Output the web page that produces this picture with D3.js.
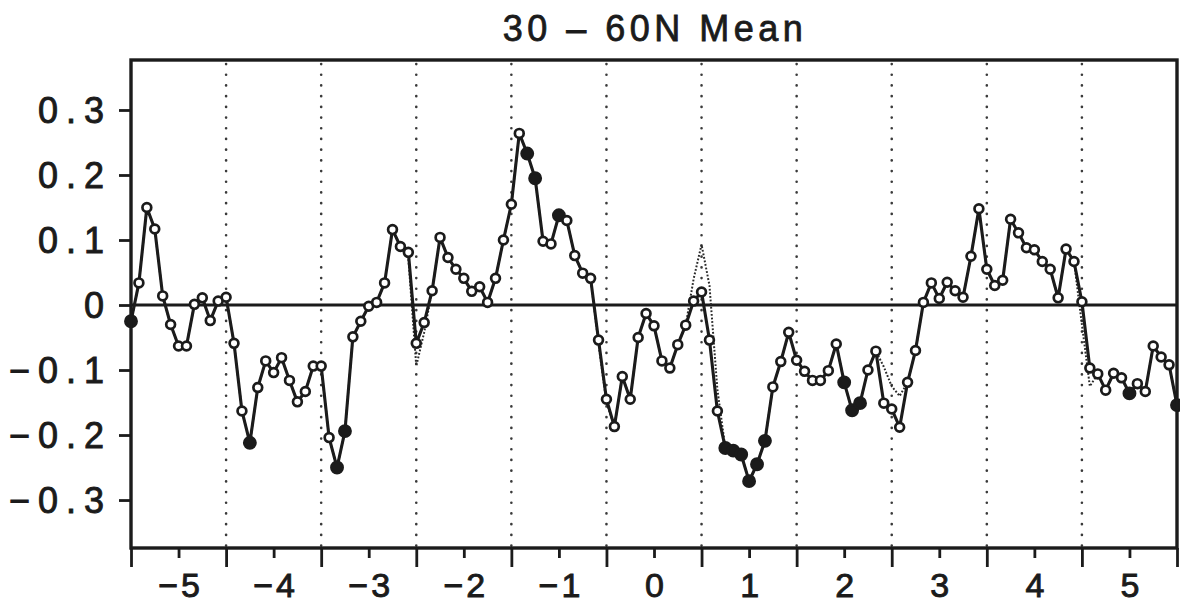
<!DOCTYPE html>
<html>
<head>
<meta charset="utf-8">
<script src="https://cdn.jsdelivr.net/npm/d3@7"></script>
<style>
  html, body { margin: 0; padding: 0; background: #ffffff; }
  svg { display: block; }
</style>
</head>
<body>
<svg id="chart" width="1180" height="603"></svg>
<script>
// ---------------- data ----------------
const chartTitle = "30 \u2013 60N Mean";
const xStart = -5.5;          // first sample position
const samplesPerUnit = 12;    // monthly samples

// main (solid) series, 133 samples from -5.5 to 5.5
const meanValues = [
  -0.025, 0.034, 0.150, 0.117, 0.014, -0.030, -0.063, -0.063, 0.001, 0.011, -0.024, 0.006,
   0.012, -0.059, -0.163, -0.212, -0.127, -0.086, -0.104, -0.081, -0.116, -0.149, -0.133, -0.094,
  -0.094, -0.204, -0.250, -0.194, -0.049, -0.025, -0.002, 0.004, 0.034, 0.116, 0.090, 0.081,
  -0.059, -0.027, 0.022, 0.104, 0.073, 0.055, 0.041, 0.021, 0.028, 0.004, 0.041, 0.100,
   0.155, 0.264, 0.233, 0.195, 0.098, 0.094, 0.138, 0.130, 0.076, 0.049, 0.041, -0.054,
  -0.145, -0.187, -0.110, -0.145, -0.050, -0.013, -0.032, -0.086, -0.097, -0.061, -0.031, 0.006,
   0.020, -0.054, -0.163, -0.220, -0.224, -0.230, -0.271, -0.245, -0.209, -0.126, -0.087, -0.042,
  -0.085, -0.102, -0.116, -0.116, -0.101, -0.060, -0.119, -0.162, -0.151, -0.100, -0.071, -0.151,
  -0.160, -0.188, -0.119, -0.070, 0.004, 0.034, 0.010, 0.035, 0.022, 0.012, 0.075, 0.148,
   0.055, 0.030, 0.038, 0.132, 0.111, 0.088, 0.085, 0.067, 0.055, 0.011, 0.086, 0.067,
   0.005, -0.097, -0.106, -0.131, -0.105, -0.112, -0.136, -0.121, -0.133, -0.063, -0.080, -0.092,
  -0.154
];

// second (dotted) series, same sampling
const altValues = [
  -0.025, 0.034, 0.150, 0.117, 0.014, -0.030, -0.063, -0.063, 0.001, 0.011, -0.024, 0.006,
   0.012, -0.059, -0.163, -0.212, -0.127, -0.086, -0.104, -0.081, -0.116, -0.149, -0.133, -0.094,
  -0.094, -0.204, -0.250, -0.194, -0.049, -0.025, -0.002, 0.004, 0.034, 0.116, 0.090, 0.072,
  -0.094, -0.042, 0.022, 0.104, 0.073, 0.055, 0.041, 0.021, 0.028, 0.004, 0.041, 0.100,
   0.155, 0.264, 0.233, 0.195, 0.098, 0.094, 0.138, 0.130, 0.076, 0.049, 0.041, -0.060,
  -0.150, -0.187, -0.110, -0.145, -0.050, -0.013, -0.032, -0.086, -0.097, -0.061, -0.031, 0.040,
   0.093, 0.030, -0.130, -0.220, -0.224, -0.230, -0.271, -0.245, -0.209, -0.126, -0.087, -0.042,
  -0.085, -0.102, -0.116, -0.116, -0.101, -0.060, -0.119, -0.162, -0.151, -0.100, -0.071, -0.095,
  -0.125, -0.140, -0.119, -0.070, 0.004, 0.034, 0.010, 0.035, 0.022, 0.012, 0.075, 0.148,
   0.055, 0.030, 0.038, 0.132, 0.111, 0.088, 0.085, 0.067, 0.055, 0.011, 0.086, 0.067,
  -0.030, -0.125, -0.106, -0.131, -0.105, -0.112, -0.136, -0.121, -0.133, -0.063, -0.080, -0.092,
  -0.154
];

// indices of samples drawn with filled markers
const filledIndices = [0, 15, 26, 27, 50, 51, 54, 75, 76, 77, 78, 79, 80, 90, 91, 92, 126, 132];

const yTickValues = [-0.3, -0.2, -0.1, 0, 0.1, 0.2, 0.3];
const xLabelTicks = [-5, -4, -3, -2, -1, 0, 1, 2, 3, 4, 5];
const xMajorTicks = [-5.5, -4.5, -3.5, -2.5, -1.5, -0.5, 0.5, 1.5, 2.5, 3.5, 4.5, 5.5];
const gridLines = [-4.5, -3.5, -2.5, -1.5, -0.5, 0.5, 1.5, 2.5, 3.5, 4.5];
const xDomain = [-5.5, 5.5];
const yDomain = [-0.3738, 0.3769];

// ---------------- layout ----------------
const plotLeft = 131, plotRight = 1177, plotTop = 60, plotBottom = 548;
const ink = "#1b1b1b";
const fontFamily = "'Liberation Sans', Arial, sans-serif";

const svg = d3.select("#chart");
svg.append("rect").attr("width", 1180).attr("height", 603).attr("fill", "#ffffff");

const x = d3.scaleLinear().domain(xDomain).range([plotLeft, plotRight]);
const y = d3.scaleLinear().domain(yDomain).range([plotBottom, plotTop]);

const mainData = meanValues.map((v, i) => ({ x: xStart + i / samplesPerUnit, y: v, i }));
const altData = altValues.map((v, i) => ({ x: xStart + i / samplesPerUnit, y: v, i }));
const filledSet = new Set(filledIndices);

// dotted vertical grid lines
svg.append("g").selectAll("line").data(gridLines).join("line")
  .attr("x1", d => x(d)).attr("x2", d => x(d))
  .attr("y1", plotTop + 4).attr("y2", plotBottom)
  .attr("stroke", "#3a3a3a").attr("stroke-width", 2.6)
  .attr("stroke-linecap", "round")
  .attr("stroke-dasharray", "0.1,10.6");

// zero line
svg.append("line")
  .attr("x1", plotLeft).attr("x2", plotRight)
  .attr("y1", y(0)).attr("y2", y(0))
  .attr("stroke", ink).attr("stroke-width", 2.8);

// dotted alt series
const line = d3.line().x(d => x(d.x)).y(d => y(d.y));
svg.append("path").datum(altData)
  .attr("d", line).attr("fill", "none")
  .attr("stroke", "#2a2a2a").attr("stroke-width", 2)
  .attr("stroke-dasharray", "1.8,1.8");

// main series
svg.append("path").datum(mainData)
  .attr("d", line).attr("fill", "none")
  .attr("stroke", ink).attr("stroke-width", 3.1)
  .attr("stroke-linejoin", "round");

// markers
svg.append("g").selectAll("circle").data(mainData).join("circle")
  .attr("cx", d => x(d.x)).attr("cy", d => y(d.y))
  .attr("r", d => filledSet.has(d.i) ? 5.6 : 4.4)
  .attr("fill", d => filledSet.has(d.i) ? ink : "#ffffff")
  .attr("stroke", ink).attr("stroke-width", 2.7);

// frame
svg.append("rect")
  .attr("x", plotLeft).attr("y", plotTop)
  .attr("width", plotRight - plotLeft).attr("height", plotBottom - plotTop)
  .attr("fill", "none").attr("stroke", ink).attr("stroke-width", 3.4);

// y axis
const yAxis = d3.axisLeft(y).tickValues(yTickValues).tickSize(12).tickPadding(15)
  .tickFormat(d => d === 0 ? "0" : d3.format(".1f")(d));
const gy = svg.append("g").attr("transform", `translate(${plotLeft},0)`).call(yAxis);
gy.select(".domain").remove();
gy.selectAll(".tick line").attr("stroke", ink).attr("stroke-width", 2.8);
gy.selectAll(".tick text")
  .attr("fill", ink)
  .attr("stroke", ink).attr("stroke-width", 0.9)
  .style("font-family", fontFamily)
  .style("font-size", "36px")
  .style("letter-spacing", "8px")
  .attr("dx", 8)
  .attr("dy", "0.36em");

// x axis: long ticks at half-integers
const gxMajor = svg.append("g").attr("transform", `translate(0,${plotBottom})`)
  .call(d3.axisBottom(x).tickValues(xMajorTicks).tickSize(19).tickFormat(""));
gxMajor.select(".domain").remove();
gxMajor.selectAll(".tick line").attr("stroke", ink).attr("stroke-width", 2.8);

// x axis: short ticks + labels at integers
const gx = svg.append("g").attr("transform", `translate(0,${plotBottom})`)
  .call(d3.axisBottom(x).tickValues(xLabelTicks).tickSize(10).tickPadding(15)
    .tickFormat(d3.format("d")));
gx.select(".domain").remove();
gx.selectAll(".tick line").attr("stroke", ink).attr("stroke-width", 2.8);
gx.selectAll(".tick text")
  .attr("fill", ink)
  .attr("stroke", ink).attr("stroke-width", 0.9)
  .style("font-family", fontFamily)
  .style("font-size", "34px")
  .style("letter-spacing", "3px")
  .attr("dx", 1.5);

// title
svg.append("text")
  .attr("x", 655).attr("y", 41)
  .attr("text-anchor", "middle")
  .attr("fill", ink)
  .attr("stroke", ink).attr("stroke-width", 0.8)
  .style("font-family", fontFamily)
  .style("font-size", "36px")
  .style("letter-spacing", "4.5px")
  .text(chartTitle);
</script>
</body>
</html>
